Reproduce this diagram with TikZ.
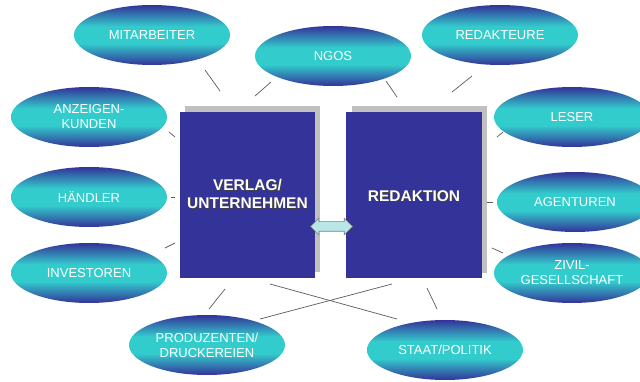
\documentclass[tikz,border=0pt]{standalone}
\usepackage{fontspec}
\setmainfont{Liberation Sans}
\usetikzlibrary{shapes.geometric,shapes.arrows}
\definecolor{ellblue}{RGB}{51,51,153}
\definecolor{ellcyan}{RGB}{51,204,204}
\definecolor{boxblue}{RGB}{51,51,153}
\definecolor{shadowgray}{RGB}{192,192,192}
\definecolor{linegray}{RGB}{90,90,90}
\definecolor{arrowcyan}{RGB}{185,230,230}
\pgfdeclareverticalshading{ellshade}{100bp}{color(0bp)=(ellblue); color(25bp)=(ellblue); color(43bp)=(ellcyan); color(57bp)=(ellcyan); color(75bp)=(ellblue); color(100bp)=(ellblue)}
\tikzset{
  ell/.style={ellipse, shading=ellshade, minimum width=156pt, minimum height=60pt, inner sep=0pt, text=white, align=center, font=\fontsize{13}{15}\selectfont},
  mainbox/.style={rectangle, fill=boxblue, minimum width=135pt, minimum height=166pt, inner sep=0pt},
  shadowbox/.style={rectangle, fill=shadowgray, minimum width=135pt, minimum height=166pt, inner sep=0pt},
  boxtext/.style={text=white, font=\bfseries\fontsize{15.5}{18}\selectfont, align=center, inner sep=0pt},
  boxtextshadow/.style={boxtext, text=black!75},
  linkline/.style={draw=linegray, line width=0.7pt},
  dblarrow/.style={double arrow, fill=arrowcyan, draw=gray, line width=0.6pt, inner xsep=0pt, inner ysep=4.5pt, double arrow head extend=3.5pt, minimum width=14pt, minimum height=42pt}
}
\begin{document}
\begin{tikzpicture}[x=1pt, y=-1pt]
\useasboundingbox (0,0) rectangle (640,382);
\clip (0,0) rectangle (640,382);
\fill[white] (0,0) rectangle (640,382);

% boxes
\node[shadowbox] (verlagshadow) at (252.5,189) {};
\node[mainbox] (verlag) at (247.5,195) {};
\node[shadowbox] (redshadow) at (419.5,189.5) {};
\node[mainbox, minimum width=136pt] (redaktion) at (414,195) {};

\node[boxtextshadow] (verlagts) at (248.5,195) {VERLAG/\\UNTERNEHMEN};
\node[boxtext] (verlagt) at (247.5,194) {VERLAG/\\UNTERNEHMEN};
\node[boxtextshadow] (redts) at (415,197) {REDAKTION};
\node[boxtext] (redt) at (414,196) {REDAKTION};

\node[dblarrow] (arrow) at (331.5,226.5) {};

% ellipses
\node[ell] (mit) at (152,35) {MITARBEITER};
\node[ell] (ngos) at (333,56) {NGOS};
\node[ell] (redak) at (500,35) {REDAKTEURE};
\node[ell] (anz) at (89,117) {ANZEIGEN-\\KUNDEN};
\node[ell] (leser) at (572,117) {LESER};
\node[ell] (haend) at (89,197) {HÄNDLER};
\node[ell] (agent) at (575,202) {AGENTUREN};
\node[ell] (invest) at (89,273) {INVESTOREN};
\node[ell] (zivil) at (572,273) {ZIVIL-\\GESELLSCHAFT};
\node[ell] (prod) at (207,345) {PRODUZENTEN/\\DRUCKEREIEN};
\node[ell] (staat) at (445,350) {STAAT/POLITIK};

% connector end points
\coordinate (mitA) at (205,70);  \coordinate (mitB) at (220,91);
\coordinate (ngoA) at (255,96);  \coordinate (ngoB) at (271,82);
\coordinate (ngoC) at (386,81);  \coordinate (ngoD) at (397,97);
\coordinate (redA) at (452,92);  \coordinate (redB) at (472,76);
\coordinate (anzA) at (169,132); \coordinate (anzB) at (175,137);
\coordinate (lesA) at (497,137); \coordinate (lesB) at (503,132);
\coordinate (haeA) at (171,197); \coordinate (haeB) at (175,197);
\coordinate (ageA) at (487,202); \coordinate (ageB) at (493,202);
\coordinate (invA) at (165,248); \coordinate (invB) at (175,243);
\coordinate (zivA) at (492,248); \coordinate (zivB) at (503,253);
\coordinate (proA) at (209,309); \coordinate (proB) at (225,289);
\coordinate (staA) at (427,288); \coordinate (staB) at (437,309);
\coordinate (crsA) at (270,284); \coordinate (crsB) at (397,319);
\coordinate (crsC) at (392,284); \coordinate (crsD) at (260,319);

\draw[linkline] (mitA) -- (mitB);
\draw[linkline] (ngoA) -- (ngoB);
\draw[linkline] (ngoC) -- (ngoD);
\draw[linkline] (redA) -- (redB);
\draw[linkline] (anzA) -- (anzB);
\draw[linkline] (lesA) -- (lesB);
\draw[linkline] (haeA) -- (haeB);
\draw[linkline] (ageA) -- (ageB);
\draw[linkline] (invA) -- (invB);
\draw[linkline] (zivA) -- (zivB);
\draw[linkline] (proA) -- (proB);
\draw[linkline] (staA) -- (staB);
\draw[linkline] (crsA) -- (crsB);
\draw[linkline] (crsC) -- (crsD);
\end{tikzpicture}
\end{document}
